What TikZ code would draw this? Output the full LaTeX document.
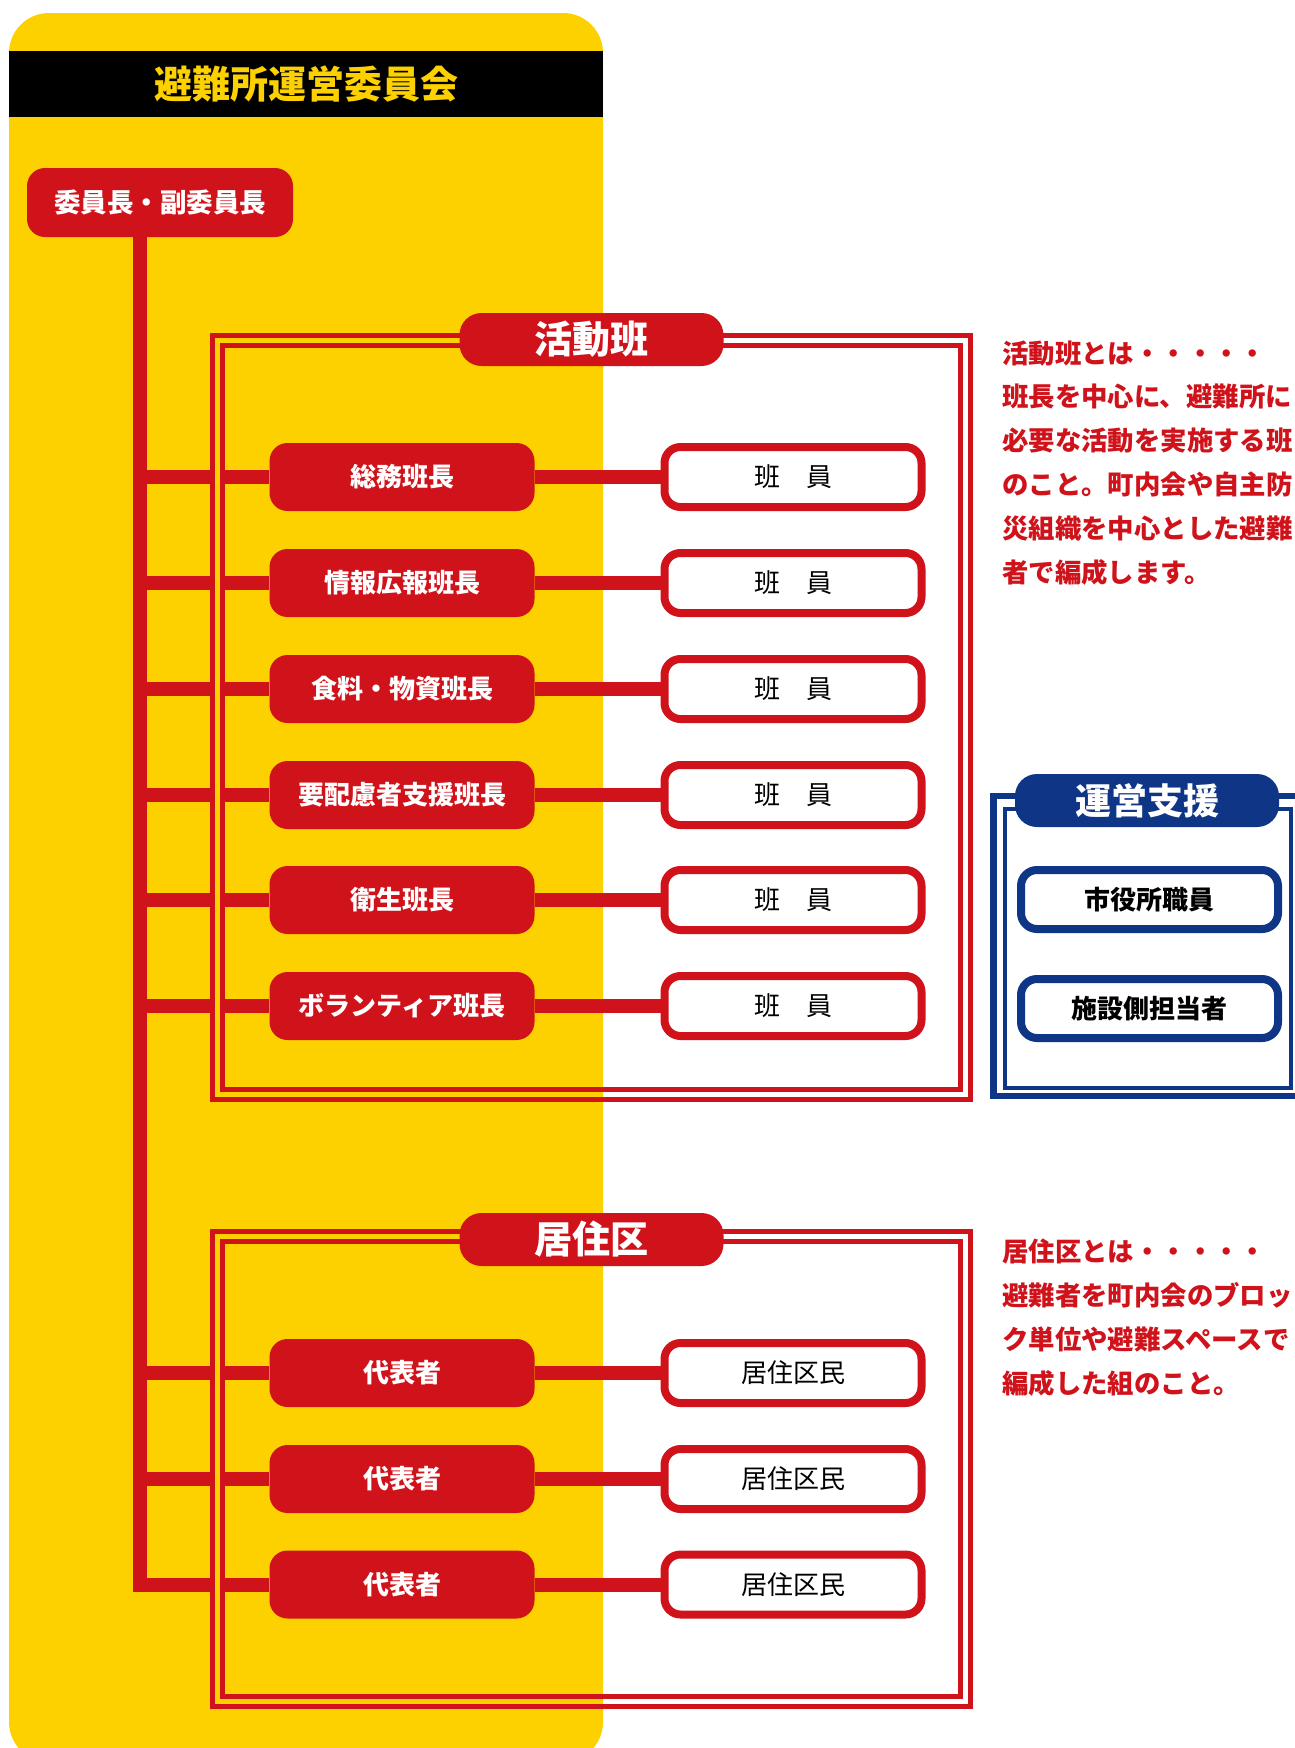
\documentclass[tikz,border=0pt]{standalone}
\usepackage{fontspec}
\newfontfamily\jp{Noto Sans CJK JP}
\definecolor{myred}{RGB}{208,18,27}
\definecolor{myyellow}{RGB}{253,208,0}
\definecolor{myblue}{RGB}{14,53,134}
\newcommand\jfs[1]{\fontsize{#1}{#1}\selectfont}
\begin{document}
\begin{tikzpicture}[x=1pt,y=-1pt,
  leader/.style={fill=myred, rounded corners=18, minimum width=265, minimum height=68, inner sep=0, text=white, font=\jp\bfseries\jfs{26}},
  member/.style={draw=myred, line width=8, fill=white, rounded corners=16, minimum width=257, minimum height=60, inner sep=0, text=black, font=\jp\jfs{26}},
  bluebox/.style={draw=myblue, line width=8, fill=white, rounded corners=16, minimum width=257, minimum height=59, inner sep=0, text=black, font=\jp\bfseries\jfs{26}},
  grouplabel/.style={fill=myred, rounded corners=22, minimum width=264, minimum height=53, inner sep=0, text=white, font=\jp\bfseries\jfs{38}},
  conn/.style={draw=myred, line width=14},
  frameline/.style={draw=myred, line width=5},
  note/.style={anchor=base west, inner sep=0, text=myred, font=\jp\bfseries\jfs{26.4}}]
\clip (0,0) rectangle (1295,1748);
\fill[white] (0,0) rectangle (1295,1748);
% yellow panel
\fill[myyellow, rounded corners=40] (9,13) rectangle (603,1762);
\fill[black] (9,51) rectangle (603,117);
\node[text=myyellow, font=\jp\bfseries\jfs{38}, inner sep=0] (title) at (306,84) {避難所運営委員会};
% nodes
\coordinate (tk) at (140,0);
\node[leader, minimum width=266, minimum height=69, font=\jp\bfseries\jfs{26.5}] (boss) at (160,202.5) {委員長・副委員長};
\node[leader] (L1) at (402,477) {総務班長};
\node[leader] (L2) at (402,583) {情報広報班長};
\node[leader] (L3) at (402,689) {食料・物資班長};
\node[leader] (L4) at (402,795) {要配慮者支援班長};
\node[leader] (L5) at (402,900) {衛生班長};
\node[leader] (L6) at (402,1006) {ボランティア班長};
\node[member] (R1) at (793,477) {班　員};
\node[member] (R2) at (793,583) {班　員};
\node[member] (R3) at (793,689) {班　員};
\node[member] (R4) at (793,795) {班　員};
\node[member] (R5) at (793,900) {班　員};
\node[member] (R6) at (793,1006) {班　員};
\node[leader] (Z1) at (402,1373) {代表者};
\node[leader] (Z2) at (402,1479) {代表者};
\node[leader] (Z3) at (402,1584.5) {代表者};
\node[member] (S1) at (793,1373) {居住区民};
\node[member] (S2) at (793,1479) {居住区民};
\node[member] (S3) at (793,1584.5) {居住区民};
% connectors
\draw[conn, line join=miter] (boss.south -| tk) -- (tk |- Z3.west) -- (Z3.west);
\foreach \a/\b in {L1/R1,L2/R2,L3/R3,L4/R4,L5/R5,L6/R6,Z1/S1,Z2/S2} {
  \draw[conn] (tk |- \a.west) -- (\a.west);
}
\foreach \a/\b in {L1/R1,L2/R2,L3/R3,L4/R4,L5/R5,L6/R6,Z1/S1,Z2/S2,Z3/S3} {
  \draw[conn] (\a.east) -- (\b.west);
}
% red frames
\draw[myyellow, line width=6] (217.25,335) -- (217.25,1099.5);
\draw[frameline] (212,335) rectangle (970.5,1099.5);
\draw[frameline] (222.5,345) rectangle (960.5,1089.5);
\draw[myyellow, line width=6] (217.25,1231.5) -- (217.25,1706.5);
\draw[frameline] (212,1231.5) rectangle (970.5,1706.5);
\draw[frameline] (222.5,1241.5) rectangle (960.5,1696.5);
\node[grouplabel] (G1) at (591.5,339.5) {活動班};
\node[grouplabel] (G2) at (591.5,1239.5) {居住区};
% blue frame
\draw[myblue, line width=6.5] (993.5,796) rectangle (1330,1096);
\draw[myblue, line width=4] (1005,809) rectangle (1291,1087.5);
\node[grouplabel, fill=myblue, font=\jp\bfseries\jfs{36}] (G3) at (1147,800.5) {運営支援};
\node[bluebox] (B1) at (1149.5,899.5) {市役所職員};
\node[bluebox] (B2) at (1149.5,1008.5) {施設側担当者};
% notes
\foreach \t [count=\i from 0] in {活動班とは・・・・・, 班長を中心に、避難所に, 必要な活動を実施する班, のこと。町内会や自主防, 災組織を中心とした避難, 者で編成します。} {
  \node[note] (na\i) at (1002,363+43.8*\i) {\t};
}
\foreach \t [count=\i from 0] in {居住区とは・・・・・, 避難者を町内会のブロッ, ク単位や避難スペースで, 編成した組のこと。} {
  \node[note] (nb\i) at (1002,1261+44.3*\i) {\t};
}
\end{tikzpicture}
\end{document}
